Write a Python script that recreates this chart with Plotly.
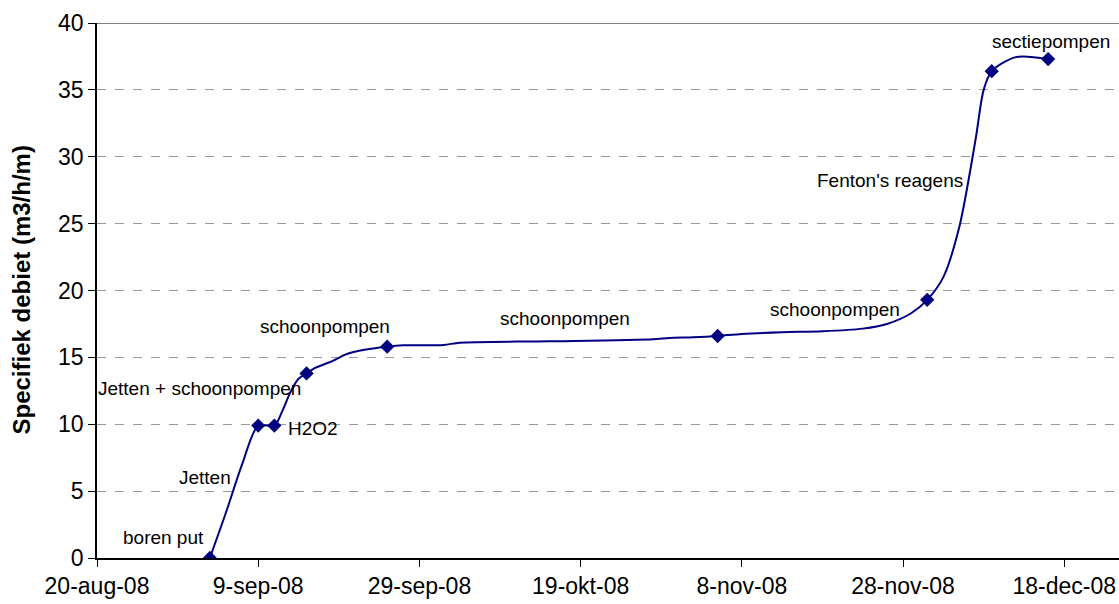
import plotly.graph_objects as go

# Smoothed measurement line (dates and specific discharge)
line_dates = ["2008-09-03", "2008-09-05", "2008-09-07", "2008-09-09", "2008-09-11",
              "2008-09-12", "2008-09-13", "2008-09-14", "2008-09-15", "2008-09-16",
              "2008-09-18", "2008-09-20", "2008-09-22", "2008-09-25",
              "2008-09-27", "2008-10-02", "2008-10-04", "2008-10-15", "2008-10-28",
              "2008-10-30", "2008-11-02", "2008-11-05", "2008-11-08", "2008-11-13",
              "2008-11-18", "2008-11-23", "2008-11-26", "2008-11-29", "2008-12-01",
              "2008-12-03", "2008-12-05", "2008-12-07", "2008-12-08", "2008-12-09",
              "2008-12-12", "2008-12-16"]
line_values = [0.0, 3.4, 7.0, 9.9, 9.9,
               11.0, 12.4, 13.4, 13.8, 14.2,
               14.67, 15.25, 15.55, 15.8,
               15.9, 15.93, 16.1, 16.2, 16.35,
               16.45, 16.5, 16.6, 16.75, 16.88,
               16.95, 17.15, 17.5, 18.3, 19.3,
               21.0, 24.8, 31.3, 35.0, 36.4,
               37.45, 37.3]

# Marked events
marker_dates = ["2008-09-03", "2008-09-09", "2008-09-11", "2008-09-15", "2008-09-25",
                "2008-11-05", "2008-12-01", "2008-12-09", "2008-12-16"]
marker_values = [0.0, 9.9, 9.9, 13.8, 15.8, 16.6, 19.3, 36.4, 37.3]

# Event labels
label_texts = ["boren put", "Jetten", "Jetten + schoonpompen", "H2O2", "schoonpompen",
               "schoonpompen", "schoonpompen", "Fenton's reagens", "sectiepompen"]
label_x = ["2008-09-02 12:00", "2008-09-05 22:00", "2008-09-14 13:00", "2008-09-12 10:00",
           "2008-09-17 08:00", "2008-10-17 02:00", "2008-11-19 14:00", "2008-12-05 17:00",
           "2008-12-16 10:00"]
label_y = [1.5, 6.05, 12.65, 9.7, 17.3, 17.9, 18.6, 28.2, 38.6]
label_anchor = ["right", "right", "right", "left", "center", "center", "center", "right", "center"]

tick_vals = ["2008-08-20", "2008-09-09", "2008-09-29", "2008-10-19", "2008-11-08",
             "2008-11-28", "2008-12-18"]
tick_text = ["20-aug-08", "9-sep-08", "29-sep-08", "19-okt-08", "8-nov-08",
             "28-nov-08", "18-dec-08"]

navy = "#000080"
font_family = "Liberation Sans, Arial, sans-serif"

fig = go.Figure()
fig.add_trace(go.Scatter(x=line_dates, y=line_values, mode="lines",
                         line=dict(color=navy, width=2, shape="spline", smoothing=0.8),
                         hoverinfo="skip", showlegend=False))
fig.add_trace(go.Scatter(x=marker_dates, y=marker_values, mode="markers",
                         marker=dict(symbol="diamond", size=11, color=navy),
                         showlegend=False))

for t, x, y, a in zip(label_texts, label_x, label_y, label_anchor):
    fig.add_annotation(x=x, y=y, text=t, showarrow=False, xanchor=a, yanchor="middle",
                       font=dict(size=19, color="#000000", family=font_family))

fig.add_annotation(x=0, y=0.5, xref="paper", yref="paper", xshift=-76,
                   text="<b>Specifiek debiet (m3/h/m)</b>", textangle=-90, showarrow=False,
                   xanchor="center", yanchor="middle",
                   font=dict(size=24, color="#000000", family=font_family))

# top border of plot area
fig.add_shape(type="line", xref="paper", yref="y", x0=0, x1=1, y0=40, y1=40,
              line=dict(color="#808080", width=2))

fig.update_xaxes(range=["2008-08-20", "2008-12-24 19:00"], tickvals=tick_vals, ticktext=tick_text,
                 showgrid=False, zeroline=False, showline=True, linecolor="#000000", linewidth=1.5,
                 ticks="outside", ticklen=7, tickcolor="#000000",
                 tickfont=dict(size=23, color="#000000", family=font_family))
fig.update_yaxes(range=[0, 40], dtick=5, tick0=0, showgrid=True, gridcolor="#999999",
                 griddash="dash", gridwidth=1, zeroline=False, showline=True,
                 linecolor="#000000", linewidth=1.5, ticks="outside", ticklen=7,
                 tickcolor="#000000",
                 tickfont=dict(size=23, color="#000000", family=font_family))
fig.update_layout(width=1119, height=604, margin=dict(l=97, r=0, t=23, b=46),
                  paper_bgcolor="white", plot_bgcolor="white")

fig.write_html("out.html")
